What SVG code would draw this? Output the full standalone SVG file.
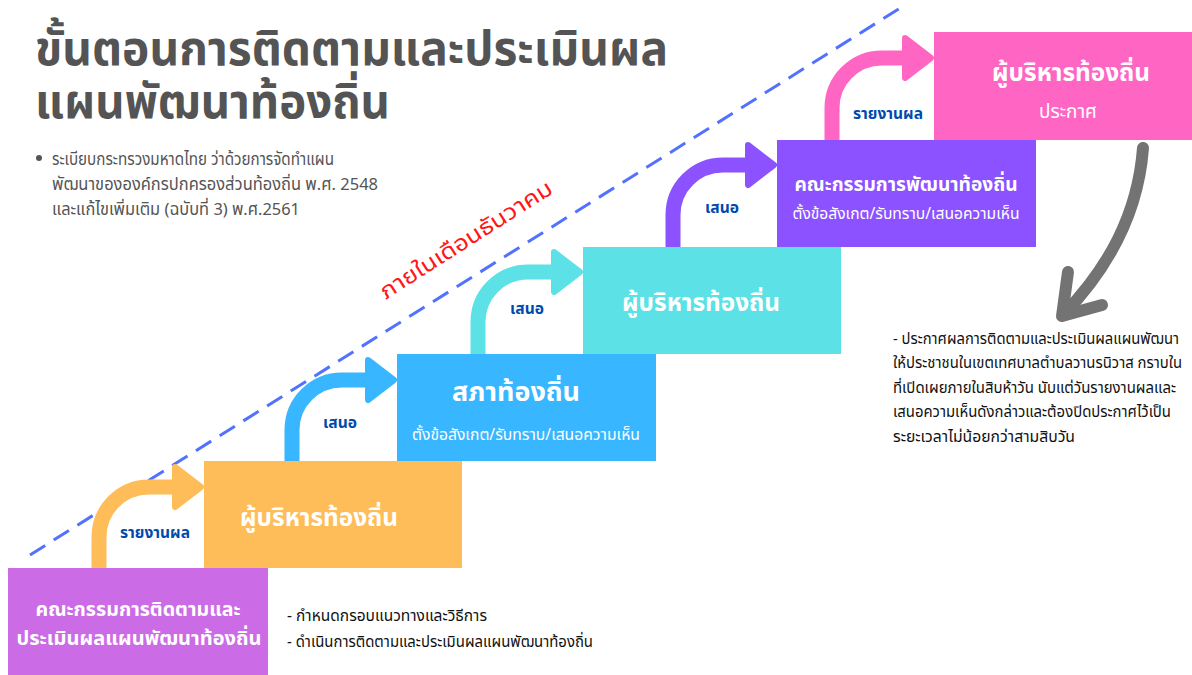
<svg xmlns="http://www.w3.org/2000/svg" width="1192" height="675" viewBox="0 0 1192 675">
<defs>
<style>
text{font-family:"Noto Sans Thai","Noto Sans","DejaVu Sans",sans-serif}
.title{font-size:48px;font-weight:700;fill:#545454}
.note{font-size:17px;fill:#545454}
.bt{fill:#ffffff;font-weight:700;text-anchor:middle}
.st{fill:#ffffff;text-anchor:middle}
.lbl{fill:#004aad;font-size:16px;font-weight:700;text-anchor:middle}
.txt{fill:#111111;font-size:16px}
.ann{fill:#111111;font-size:15px}
.arr{fill:none;stroke-width:15;stroke-linecap:butt}
.head{stroke-width:6;stroke-linejoin:round}
</style>
</defs>
<rect width="1192" height="675" fill="#ffffff"/>

<g id="title">
<text class="title" x="35" y="65" textLength="633" lengthAdjust="spacingAndGlyphs">ขั้นตอนการติดตามและประเมินผล</text>
<text class="title" x="35" y="118" textLength="355" lengthAdjust="spacingAndGlyphs">แผนพัฒนาท้องถิ่น</text>
</g>

<g id="regulation">
<circle cx="39" cy="158" r="3" fill="#545454"/>
<text class="note" x="52" y="165" textLength="282" lengthAdjust="spacingAndGlyphs">ระเบียบกระทรวงมหาดไทย ว่าด้วยการจัดทำแผน</text>
<text class="note" x="52" y="190" textLength="326" lengthAdjust="spacingAndGlyphs">พัฒนาขององค์กรปกครองส่วนท้องถิ่น พ.ศ. 2548</text>
<text class="note" x="52" y="215" textLength="248" lengthAdjust="spacingAndGlyphs">และแก้ไขเพิ่มเติม (ฉบับที่ 3) พ.ศ.2561</text>
</g>

<g id="deadline">
<line x1="30" y1="555" x2="905" y2="5" stroke="#5271ff" stroke-width="3" stroke-dasharray="18 10"/>
<text x="470" y="246" transform="rotate(-32.5 470 246)" fill="#ff1616" font-size="22" text-anchor="middle" textLength="200" lengthAdjust="spacingAndGlyphs">ภายในเดือนธันวาคม</text>
</g>

<g id="connectors">
<path class="arr" stroke="#ffbd59" d="M99,570 L99,537 A50,50 0 0 1 149,487 L180,487"/>
<polygon class="head" fill="#ffbd59" stroke="#ffbd59" points="175,467 201,487 175,507"/>
<text class="lbl" x="155" y="538" textLength="70" lengthAdjust="spacingAndGlyphs">รายงานผล</text>

<path class="arr" stroke="#38b6ff" d="M292,463 L292,430 A50,50 0 0 1 342,380 L373,380"/>
<polygon class="head" fill="#38b6ff" stroke="#38b6ff" points="368,360 394,380 368,400"/>
<text class="lbl" x="340" y="428" textLength="34" lengthAdjust="spacingAndGlyphs">เสนอ</text>

<path class="arr" stroke="#5ce1e6" d="M478,356 L478,322 A50,50 0 0 1 528,272 L559,272"/>
<polygon class="head" fill="#5ce1e6" stroke="#5ce1e6" points="554,252 580,272 554,292"/>
<text class="lbl" x="527" y="314" textLength="34" lengthAdjust="spacingAndGlyphs">เสนอ</text>

<path class="arr" stroke="#8c52ff" d="M673,249 L673,215 A50,50 0 0 1 723,165 L753,165"/>
<polygon class="head" fill="#8c52ff" stroke="#8c52ff" points="748,145 774,165 748,185"/>
<text class="lbl" x="722" y="213" textLength="34" lengthAdjust="spacingAndGlyphs">เสนอ</text>

<path class="arr" stroke="#ff66c4" d="M832,142 L832,108 A50,50 0 0 1 882,58 L910,58"/>
<polygon class="head" fill="#ff66c4" stroke="#ff66c4" points="905,38 931,58 905,78"/>
<text class="lbl" x="888" y="119" textLength="70" lengthAdjust="spacingAndGlyphs">รายงานผล</text>

<path fill="none" stroke="#737373" stroke-width="12" stroke-linecap="round" d="M1143,148 C1138,215 1108,268 1064,314"/>
<path fill="none" stroke="#737373" stroke-width="12" stroke-linecap="round" stroke-linejoin="round" d="M1068,272 L1062,316 L1102,305"/>
</g>

<g id="node-committee">
<rect x="8" y="568" width="260" height="107" fill="#cb6ce6"/>
<text class="bt" x="138" y="616" font-size="20" textLength="205" lengthAdjust="spacingAndGlyphs">คณะกรรมการติดตามและ</text>
<text class="bt" x="139" y="645" font-size="20" textLength="245" lengthAdjust="spacingAndGlyphs">ประเมินผลแผนพัฒนาท้องถิ่น</text>
</g>

<g id="node-exec1">
<rect x="204" y="461" width="258" height="107" fill="#ffbd59"/>
<text class="bt" x="319" y="526" font-size="24" textLength="158" lengthAdjust="spacingAndGlyphs">ผู้บริหารท้องถิ่น</text>
</g>

<g id="node-council">
<rect x="397" y="354" width="259" height="107" fill="#38b6ff"/>
<text class="bt" x="516" y="401" font-size="27" textLength="128" lengthAdjust="spacingAndGlyphs">สภาท้องถิ่น</text>
<text class="st" x="526" y="440" font-size="16" textLength="228" lengthAdjust="spacingAndGlyphs">ตั้งข้อสังเกต/รับทราบ/เสนอความเห็น</text>
</g>

<g id="node-exec2">
<rect x="583" y="247" width="258" height="107" fill="#5ce1e6"/>
<text class="bt" x="701" y="311" font-size="24" textLength="158" lengthAdjust="spacingAndGlyphs">ผู้บริหารท้องถิ่น</text>
</g>

<g id="node-devcommittee">
<rect x="777" y="140" width="259" height="107" fill="#8c52ff"/>
<text class="bt" x="906" y="191" font-size="20" textLength="223" lengthAdjust="spacingAndGlyphs">คณะกรรมการพัฒนาท้องถิ่น</text>
<text class="st" x="906" y="219" font-size="16" textLength="227" lengthAdjust="spacingAndGlyphs">ตั้งข้อสังเกต/รับทราบ/เสนอความเห็น</text>
</g>

<g id="node-exec3">
<rect x="934" y="32" width="258" height="108" fill="#ff66c4"/>
<text class="bt" x="1071" y="81" font-size="24" textLength="158" lengthAdjust="spacingAndGlyphs">ผู้บริหารท้องถิ่น</text>
<text class="st" x="1068" y="118" font-size="20" textLength="58" lengthAdjust="spacingAndGlyphs">ประกาศ</text>
</g>

<g id="duties">
<text class="txt" x="287" y="621" textLength="200" lengthAdjust="spacingAndGlyphs">- กำหนดกรอบแนวทางและวิธีการ</text>
<text class="txt" x="287" y="647" textLength="306" lengthAdjust="spacingAndGlyphs">- ดำเนินการติดตามและประเมินผลแผนพัฒนาท้องถิ่น</text>
</g>

<g id="announcement">
<text class="ann" x="893" y="344" textLength="286" lengthAdjust="spacingAndGlyphs">- ประกาศผลการติดตามและประเมินผลแผนพัฒนา</text>
<text class="ann" x="893" y="368" textLength="289" lengthAdjust="spacingAndGlyphs">ให้ประชาชนในเขตเทศบาลตำบลวานรนิวาส กราบใน</text>
<text class="ann" x="893" y="393" textLength="283" lengthAdjust="spacingAndGlyphs">ที่เปิดเผยภายในสิบห้าวัน นับแต่วันรายงานผลและ</text>
<text class="ann" x="893" y="417" textLength="278" lengthAdjust="spacingAndGlyphs">เสนอความเห็นดังกล่าวและต้องปิดประกาศไว้เป็น</text>
<text class="ann" x="893" y="442" textLength="182" lengthAdjust="spacingAndGlyphs">ระยะเวลาไม่น้อยกว่าสามสิบวัน</text>
</g>
</svg>
